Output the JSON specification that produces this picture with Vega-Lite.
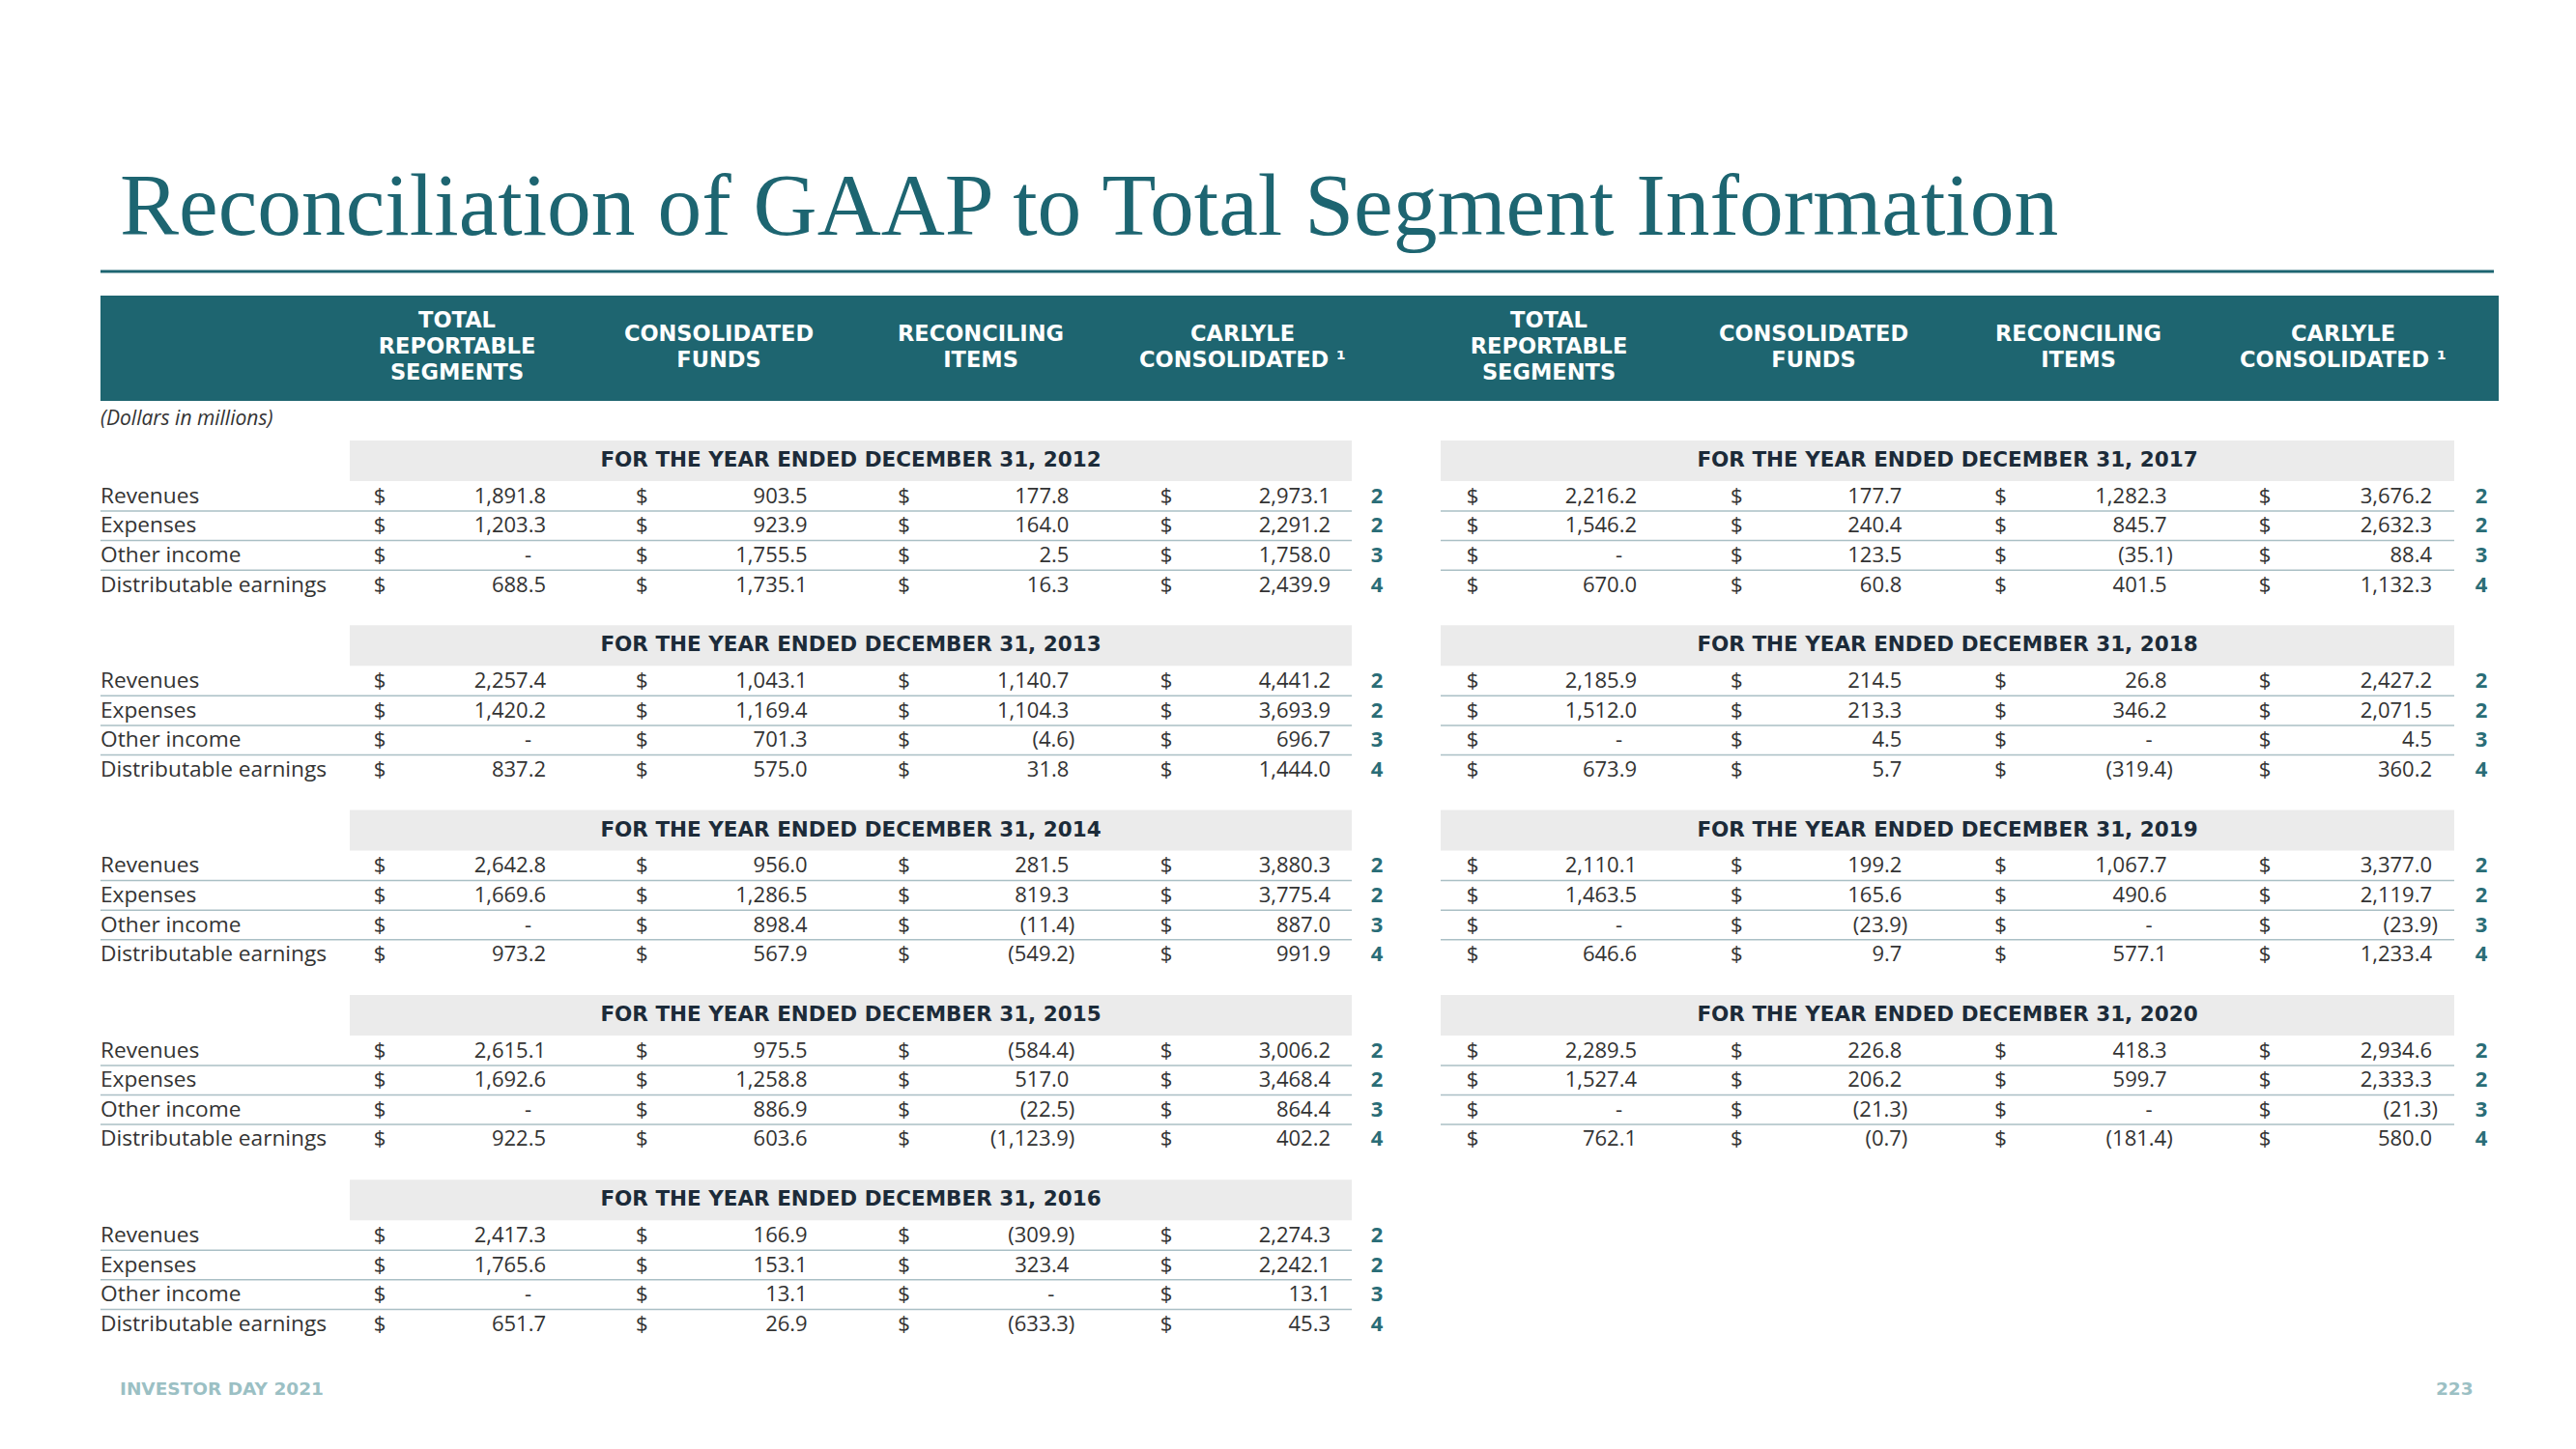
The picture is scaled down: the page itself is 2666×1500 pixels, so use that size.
{
  "$schema": "https://vega.github.io/schema/vega-lite/v6.json",
  "width": 2666,
  "height": 1500,
  "autosize": {"type": "none"},
  "padding": 0,
  "background": "#ffffff",
  "config": {"view": {"stroke": null}},
  "resolve": {"scale": {"x": "independent", "y": "independent", "yOffset": "independent"}},
  "datasets": {
    "headers": [
      {"column": "Total Reportable Segments", "lines": 3, "heading": "TOTAL\nREPORTABLE\nSEGMENTS"},
      {"column": "Consolidated Funds", "lines": 2, "heading": "CONSOLIDATED\nFUNDS"},
      {"column": "Reconciling Items", "lines": 2, "heading": "RECONCILING\nITEMS"},
      {"column": "Carlyle Consolidated", "lines": 2, "heading": "CARLYLE\nCONSOLIDATED ¹"}
    ],
    "years": [
      {"year": 2012, "side": "left", "period": "FOR THE YEAR ENDED DECEMBER 31, 2012"},
      {"year": 2013, "side": "left", "period": "FOR THE YEAR ENDED DECEMBER 31, 2013"},
      {"year": 2014, "side": "left", "period": "FOR THE YEAR ENDED DECEMBER 31, 2014"},
      {"year": 2015, "side": "left", "period": "FOR THE YEAR ENDED DECEMBER 31, 2015"},
      {"year": 2016, "side": "left", "period": "FOR THE YEAR ENDED DECEMBER 31, 2016"},
      {"year": 2017, "side": "right", "period": "FOR THE YEAR ENDED DECEMBER 31, 2017"},
      {"year": 2018, "side": "right", "period": "FOR THE YEAR ENDED DECEMBER 31, 2018"},
      {"year": 2019, "side": "right", "period": "FOR THE YEAR ENDED DECEMBER 31, 2019"},
      {"year": 2020, "side": "right", "period": "FOR THE YEAR ENDED DECEMBER 31, 2020"}
    ],
    "cells": [
      {"year": 2012, "side": "left", "item": "Revenues", "note": 2, "Total Reportable Segments": 1891.8, "Consolidated Funds": 903.5, "Reconciling Items": 177.8, "Carlyle Consolidated": 2973.1},
      {"year": 2012, "side": "left", "item": "Expenses", "note": 2, "Total Reportable Segments": 1203.3, "Consolidated Funds": 923.9, "Reconciling Items": 164.0, "Carlyle Consolidated": 2291.2},
      {"year": 2012, "side": "left", "item": "Other income", "note": 3, "Total Reportable Segments": 0, "Consolidated Funds": 1755.5, "Reconciling Items": 2.5, "Carlyle Consolidated": 1758.0},
      {"year": 2012, "side": "left", "item": "Distributable earnings", "note": 4, "Total Reportable Segments": 688.5, "Consolidated Funds": 1735.1, "Reconciling Items": 16.3, "Carlyle Consolidated": 2439.9},
      {"year": 2013, "side": "left", "item": "Revenues", "note": 2, "Total Reportable Segments": 2257.4, "Consolidated Funds": 1043.1, "Reconciling Items": 1140.7, "Carlyle Consolidated": 4441.2},
      {"year": 2013, "side": "left", "item": "Expenses", "note": 2, "Total Reportable Segments": 1420.2, "Consolidated Funds": 1169.4, "Reconciling Items": 1104.3, "Carlyle Consolidated": 3693.9},
      {"year": 2013, "side": "left", "item": "Other income", "note": 3, "Total Reportable Segments": 0, "Consolidated Funds": 701.3, "Reconciling Items": -4.6, "Carlyle Consolidated": 696.7},
      {"year": 2013, "side": "left", "item": "Distributable earnings", "note": 4, "Total Reportable Segments": 837.2, "Consolidated Funds": 575.0, "Reconciling Items": 31.8, "Carlyle Consolidated": 1444.0},
      {"year": 2014, "side": "left", "item": "Revenues", "note": 2, "Total Reportable Segments": 2642.8, "Consolidated Funds": 956.0, "Reconciling Items": 281.5, "Carlyle Consolidated": 3880.3},
      {"year": 2014, "side": "left", "item": "Expenses", "note": 2, "Total Reportable Segments": 1669.6, "Consolidated Funds": 1286.5, "Reconciling Items": 819.3, "Carlyle Consolidated": 3775.4},
      {"year": 2014, "side": "left", "item": "Other income", "note": 3, "Total Reportable Segments": 0, "Consolidated Funds": 898.4, "Reconciling Items": -11.4, "Carlyle Consolidated": 887.0},
      {"year": 2014, "side": "left", "item": "Distributable earnings", "note": 4, "Total Reportable Segments": 973.2, "Consolidated Funds": 567.9, "Reconciling Items": -549.2, "Carlyle Consolidated": 991.9},
      {"year": 2015, "side": "left", "item": "Revenues", "note": 2, "Total Reportable Segments": 2615.1, "Consolidated Funds": 975.5, "Reconciling Items": -584.4, "Carlyle Consolidated": 3006.2},
      {"year": 2015, "side": "left", "item": "Expenses", "note": 2, "Total Reportable Segments": 1692.6, "Consolidated Funds": 1258.8, "Reconciling Items": 517.0, "Carlyle Consolidated": 3468.4},
      {"year": 2015, "side": "left", "item": "Other income", "note": 3, "Total Reportable Segments": 0, "Consolidated Funds": 886.9, "Reconciling Items": -22.5, "Carlyle Consolidated": 864.4},
      {"year": 2015, "side": "left", "item": "Distributable earnings", "note": 4, "Total Reportable Segments": 922.5, "Consolidated Funds": 603.6, "Reconciling Items": -1123.9, "Carlyle Consolidated": 402.2},
      {"year": 2016, "side": "left", "item": "Revenues", "note": 2, "Total Reportable Segments": 2417.3, "Consolidated Funds": 166.9, "Reconciling Items": -309.9, "Carlyle Consolidated": 2274.3},
      {"year": 2016, "side": "left", "item": "Expenses", "note": 2, "Total Reportable Segments": 1765.6, "Consolidated Funds": 153.1, "Reconciling Items": 323.4, "Carlyle Consolidated": 2242.1},
      {"year": 2016, "side": "left", "item": "Other income", "note": 3, "Total Reportable Segments": 0, "Consolidated Funds": 13.1, "Reconciling Items": 0, "Carlyle Consolidated": 13.1},
      {"year": 2016, "side": "left", "item": "Distributable earnings", "note": 4, "Total Reportable Segments": 651.7, "Consolidated Funds": 26.9, "Reconciling Items": -633.3, "Carlyle Consolidated": 45.3},
      {"year": 2017, "side": "right", "item": "Revenues", "note": 2, "Total Reportable Segments": 2216.2, "Consolidated Funds": 177.7, "Reconciling Items": 1282.3, "Carlyle Consolidated": 3676.2},
      {"year": 2017, "side": "right", "item": "Expenses", "note": 2, "Total Reportable Segments": 1546.2, "Consolidated Funds": 240.4, "Reconciling Items": 845.7, "Carlyle Consolidated": 2632.3},
      {"year": 2017, "side": "right", "item": "Other income", "note": 3, "Total Reportable Segments": 0, "Consolidated Funds": 123.5, "Reconciling Items": -35.1, "Carlyle Consolidated": 88.4},
      {"year": 2017, "side": "right", "item": "Distributable earnings", "note": 4, "Total Reportable Segments": 670.0, "Consolidated Funds": 60.8, "Reconciling Items": 401.5, "Carlyle Consolidated": 1132.3},
      {"year": 2018, "side": "right", "item": "Revenues", "note": 2, "Total Reportable Segments": 2185.9, "Consolidated Funds": 214.5, "Reconciling Items": 26.8, "Carlyle Consolidated": 2427.2},
      {"year": 2018, "side": "right", "item": "Expenses", "note": 2, "Total Reportable Segments": 1512.0, "Consolidated Funds": 213.3, "Reconciling Items": 346.2, "Carlyle Consolidated": 2071.5},
      {"year": 2018, "side": "right", "item": "Other income", "note": 3, "Total Reportable Segments": 0, "Consolidated Funds": 4.5, "Reconciling Items": 0, "Carlyle Consolidated": 4.5},
      {"year": 2018, "side": "right", "item": "Distributable earnings", "note": 4, "Total Reportable Segments": 673.9, "Consolidated Funds": 5.7, "Reconciling Items": -319.4, "Carlyle Consolidated": 360.2},
      {"year": 2019, "side": "right", "item": "Revenues", "note": 2, "Total Reportable Segments": 2110.1, "Consolidated Funds": 199.2, "Reconciling Items": 1067.7, "Carlyle Consolidated": 3377.0},
      {"year": 2019, "side": "right", "item": "Expenses", "note": 2, "Total Reportable Segments": 1463.5, "Consolidated Funds": 165.6, "Reconciling Items": 490.6, "Carlyle Consolidated": 2119.7},
      {"year": 2019, "side": "right", "item": "Other income", "note": 3, "Total Reportable Segments": 0, "Consolidated Funds": -23.9, "Reconciling Items": 0, "Carlyle Consolidated": -23.9},
      {"year": 2019, "side": "right", "item": "Distributable earnings", "note": 4, "Total Reportable Segments": 646.6, "Consolidated Funds": 9.7, "Reconciling Items": 577.1, "Carlyle Consolidated": 1233.4},
      {"year": 2020, "side": "right", "item": "Revenues", "note": 2, "Total Reportable Segments": 2289.5, "Consolidated Funds": 226.8, "Reconciling Items": 418.3, "Carlyle Consolidated": 2934.6},
      {"year": 2020, "side": "right", "item": "Expenses", "note": 2, "Total Reportable Segments": 1527.4, "Consolidated Funds": 206.2, "Reconciling Items": 599.7, "Carlyle Consolidated": 2333.3},
      {"year": 2020, "side": "right", "item": "Other income", "note": 3, "Total Reportable Segments": 0, "Consolidated Funds": -21.3, "Reconciling Items": 0, "Carlyle Consolidated": -21.3},
      {"year": 2020, "side": "right", "item": "Distributable earnings", "note": 4, "Total Reportable Segments": 762.1, "Consolidated Funds": -0.7, "Reconciling Items": -181.4, "Carlyle Consolidated": 580.0}
    ]
  },
  "layer": [
    {
      "data": {"values": [{"title": "Reconciliation of GAAP to Total Segment Information"}]},
      "mark": {"type": "text", "align": "left", "baseline": "alphabetic", "font": "Liberation Serif", "fontSize": 91.5, "color": "#1d6571"},
      "encoding": {
        "text": {"field": "title", "type": "nominal"},
        "x": {"datum": 0, "type": "quantitative", "axis": null, "scale": {"domain": [0, 1], "range": [124, 2130]}},
        "y": {"datum": 0, "type": "quantitative", "axis": null, "scale": {"domain": [0, 1], "range": [243, 1500]}}
      }
    },
    {
      "data": {"values": [{}]},
      "mark": {"type": "rule", "stroke": "#1d6571", "strokeWidth": 3},
      "encoding": {
        "x": {"datum": 0, "type": "quantitative", "axis": null, "scale": {"domain": [0, 1], "range": [104, 2581]}},
        "x2": {"datum": 1},
        "y": {"datum": 0, "type": "quantitative", "axis": null, "scale": {"domain": [0, 1], "range": [281, 1500]}}
      }
    },
    {
      "data": {"values": [{}]},
      "mark": {"type": "rect", "fill": "#1e6570"},
      "encoding": {
        "x": {"datum": 0, "type": "quantitative", "axis": null, "scale": {"domain": [0, 1], "range": [104, 2586]}},
        "x2": {"datum": 1},
        "y": {"datum": 0, "type": "quantitative", "axis": null, "scale": {"domain": [0, 1], "range": [306, 415]}},
        "y2": {"datum": 1}
      }
    },
    {
      "data": {"name": "headers"},
      "mark": {"type": "text", "align": "center", "baseline": "middle", "lineBreak": "\n", "lineHeight": 27, "font": "DejaVu Sans", "fontWeight": "bold", "fontSize": 22.5, "color": "#ffffff"},
      "encoding": {
        "text": {"field": "heading", "type": "nominal"},
        "x": {"field": "column", "type": "nominal", "axis": null, "scale": {"type": "point", "padding": 0, "domain": ["Total Reportable Segments", "Consolidated Funds", "Reconciling Items", "Carlyle Consolidated"], "range": [473, 1286]}},
        "y": {"field": "lines", "type": "ordinal", "axis": null, "scale": {"type": "point", "padding": 0, "domain": [3, 2], "range": [332, 345.5]}}
      }
    },
    {
      "data": {"name": "headers"},
      "mark": {"type": "text", "align": "center", "baseline": "middle", "lineBreak": "\n", "lineHeight": 27, "font": "DejaVu Sans", "fontWeight": "bold", "fontSize": 22.5, "color": "#ffffff"},
      "encoding": {
        "text": {"field": "heading", "type": "nominal"},
        "x": {"field": "column", "type": "nominal", "axis": null, "scale": {"type": "point", "padding": 0, "domain": ["Total Reportable Segments", "Consolidated Funds", "Reconciling Items", "Carlyle Consolidated"], "range": [1603, 2425]}},
        "y": {"field": "lines", "type": "ordinal", "axis": null, "scale": {"type": "point", "padding": 0, "domain": [3, 2], "range": [332, 345.5]}}
      }
    },
    {
      "data": {"values": [{"units": "(Dollars in millions)"}]},
      "mark": {"type": "text", "align": "left", "baseline": "middle", "font": "Open Sans", "fontStyle": "italic", "fontSize": 21, "color": "#333333"},
      "encoding": {
        "text": {"field": "units", "type": "nominal"},
        "x": {"datum": 0, "type": "quantitative", "axis": null, "scale": {"domain": [0, 1], "range": [104, 1399]}},
        "y": {"datum": 0, "type": "quantitative", "axis": null, "scale": {"domain": [0, 1], "range": [434, 1500]}}
      }
    },
    {
      "data": {"name": "years"},
      "transform": [{"filter": "datum.side === 'left'"}],
      "mark": {"type": "rect", "fill": "#ebebeb"},
      "encoding": {
        "x": {"datum": 0, "type": "quantitative", "axis": null, "scale": {"domain": [0, 1], "range": [362, 1399]}},
        "x2": {"datum": 1},
        "y": {"field": "year", "type": "ordinal", "axis": null, "scale": {"type": "band", "domain": [2012, 2013, 2014, 2015, 2016], "range": [456, 1263.2], "paddingInner": 0.78045, "paddingOuter": 0}}
      }
    },
    {
      "data": {"name": "years"},
      "transform": [{"filter": "datum.side === 'right'"}],
      "mark": {"type": "rect", "fill": "#ebebeb"},
      "encoding": {
        "x": {"datum": 0, "type": "quantitative", "axis": null, "scale": {"domain": [0, 1], "range": [1491, 2540]}},
        "x2": {"datum": 1},
        "y": {"field": "year", "type": "ordinal", "axis": null, "scale": {"type": "band", "domain": [2017, 2018, 2019, 2020], "range": [456, 1071.9], "paddingInner": 0.78045, "paddingOuter": 0}}
      }
    },
    {
      "data": {"name": "years"},
      "transform": [{"filter": "datum.side === 'left'"}],
      "mark": {"type": "text", "align": "center", "baseline": "middle", "font": "DejaVu Sans", "fontWeight": "bold", "fontSize": 21.5, "color": "#1c2b39"},
      "encoding": {
        "text": {"field": "period", "type": "nominal"},
        "x": {"datum": 0.5, "type": "quantitative", "axis": null, "scale": {"domain": [0, 1], "range": [362, 1399]}},
        "y": {"field": "year", "type": "ordinal", "axis": null, "scale": {"type": "band", "domain": [2012, 2013, 2014, 2015, 2016], "range": [456, 1263.2], "paddingInner": 0.78045, "paddingOuter": 0}}
      }
    },
    {
      "data": {"name": "years"},
      "transform": [{"filter": "datum.side === 'right'"}],
      "mark": {"type": "text", "align": "center", "baseline": "middle", "font": "DejaVu Sans", "fontWeight": "bold", "fontSize": 21.5, "color": "#1c2b39"},
      "encoding": {
        "text": {"field": "period", "type": "nominal"},
        "x": {"datum": 0.5, "type": "quantitative", "axis": null, "scale": {"domain": [0, 1], "range": [1491, 2540]}},
        "y": {"field": "year", "type": "ordinal", "axis": null, "scale": {"type": "band", "domain": [2017, 2018, 2019, 2020], "range": [456, 1071.9], "paddingInner": 0.78045, "paddingOuter": 0}}
      }
    },
    {
      "data": {"name": "cells"},
      "transform": [{"filter": "datum.side === 'left' && datum.item !== 'Distributable earnings'"}],
      "mark": {"type": "rule", "stroke": "#aabfc5", "strokeWidth": 1.5},
      "encoding": {
        "x": {"datum": 0, "type": "quantitative", "axis": null, "scale": {"domain": [0, 1], "range": [104, 1399]}},
        "x2": {"datum": 1},
        "y": {"field": "year", "type": "ordinal", "axis": null, "scale": {"type": "band", "domain": [2012, 2013, 2014, 2015, 2016], "range": [456, 1263.2], "paddingInner": 0.78045, "paddingOuter": 0}},
        "yOffset": {"field": "item", "type": "nominal", "scale": {"type": "point", "padding": 0, "domain": ["Revenues", "Expenses", "Other income"], "range": [73, 134.2]}}
      }
    },
    {
      "data": {"name": "cells"},
      "transform": [{"filter": "datum.side === 'right' && datum.item !== 'Distributable earnings'"}],
      "mark": {"type": "rule", "stroke": "#aabfc5", "strokeWidth": 1.5},
      "encoding": {
        "x": {"datum": 0, "type": "quantitative", "axis": null, "scale": {"domain": [0, 1], "range": [1491, 2540]}},
        "x2": {"datum": 1},
        "y": {"field": "year", "type": "ordinal", "axis": null, "scale": {"type": "band", "domain": [2017, 2018, 2019, 2020], "range": [456, 1071.9], "paddingInner": 0.78045, "paddingOuter": 0}},
        "yOffset": {"field": "item", "type": "nominal", "scale": {"type": "point", "padding": 0, "domain": ["Revenues", "Expenses", "Other income"], "range": [73, 134.2]}}
      }
    },
    {
      "data": {"name": "cells"},
      "transform": [{"filter": "datum.side === 'left'"}],
      "mark": {"type": "text", "align": "left", "baseline": "middle", "font": "Open Sans", "fontSize": 22.7, "color": "#333333"},
      "encoding": {
        "text": {"field": "item", "type": "nominal"},
        "x": {"datum": 0, "type": "quantitative", "axis": null, "scale": {"domain": [0, 1], "range": [104, 1399]}},
        "y": {"field": "year", "type": "ordinal", "axis": null, "scale": {"type": "band", "domain": [2012, 2013, 2014, 2015, 2016], "range": [456, 1263.2], "paddingInner": 0.78045, "paddingOuter": 0}},
        "yOffset": {"field": "item", "type": "nominal", "scale": {"type": "point", "padding": 0, "domain": ["Revenues", "Expenses", "Other income", "Distributable earnings"], "range": [57.7, 149.5]}}
      }
    },
    {
      "data": {"name": "cells"},
      "transform": [{"filter": "datum.side === 'left'"}, {"fold": ["Total Reportable Segments", "Consolidated Funds", "Reconciling Items", "Carlyle Consolidated"], "as": ["column", "value"]}],
      "mark": {"type": "text", "text": "$", "align": "center", "baseline": "middle", "font": "Open Sans", "fontSize": 22, "color": "#333333"},
      "encoding": {
        "x": {"field": "column", "type": "nominal", "axis": null, "scale": {"type": "point", "padding": 0, "domain": ["Total Reportable Segments", "Consolidated Funds", "Reconciling Items", "Carlyle Consolidated"], "range": [393, 1207]}},
        "y": {"field": "year", "type": "ordinal", "axis": null, "scale": {"type": "band", "domain": [2012, 2013, 2014, 2015, 2016], "range": [456, 1263.2], "paddingInner": 0.78045, "paddingOuter": 0}},
        "yOffset": {"field": "item", "type": "nominal", "scale": {"type": "point", "padding": 0, "domain": ["Revenues", "Expenses", "Other income", "Distributable earnings"], "range": [57.7, 149.5]}}
      }
    },
    {
      "data": {"name": "cells"},
      "transform": [{"filter": "datum.side === 'right'"}, {"fold": ["Total Reportable Segments", "Consolidated Funds", "Reconciling Items", "Carlyle Consolidated"], "as": ["column", "value"]}],
      "mark": {"type": "text", "text": "$", "align": "center", "baseline": "middle", "font": "Open Sans", "fontSize": 22, "color": "#333333"},
      "encoding": {
        "x": {"field": "column", "type": "nominal", "axis": null, "scale": {"type": "point", "padding": 0, "domain": ["Total Reportable Segments", "Consolidated Funds", "Reconciling Items", "Carlyle Consolidated"], "range": [1524, 2344]}},
        "y": {"field": "year", "type": "ordinal", "axis": null, "scale": {"type": "band", "domain": [2017, 2018, 2019, 2020], "range": [456, 1071.9], "paddingInner": 0.78045, "paddingOuter": 0}},
        "yOffset": {"field": "item", "type": "nominal", "scale": {"type": "point", "padding": 0, "domain": ["Revenues", "Expenses", "Other income", "Distributable earnings"], "range": [57.7, 149.5]}}
      }
    },
    {
      "data": {"name": "cells"},
      "transform": [{"filter": "datum.side === 'left'"}, {"fold": ["Total Reportable Segments", "Consolidated Funds", "Reconciling Items", "Carlyle Consolidated"], "as": ["column", "value"]}, {"filter": "datum.value > 0"}],
      "mark": {"type": "text", "align": "right", "baseline": "middle", "font": "Open Sans", "fontSize": 22, "color": "#333333"},
      "encoding": {
        "text": {"field": "value", "type": "quantitative", "format": "(,.1f"},
        "x": {"field": "column", "type": "nominal", "axis": null, "scale": {"type": "point", "padding": 0, "domain": ["Total Reportable Segments", "Consolidated Funds", "Reconciling Items", "Carlyle Consolidated"], "range": [565, 1377]}},
        "y": {"field": "year", "type": "ordinal", "axis": null, "scale": {"type": "band", "domain": [2012, 2013, 2014, 2015, 2016], "range": [456, 1263.2], "paddingInner": 0.78045, "paddingOuter": 0}},
        "yOffset": {"field": "item", "type": "nominal", "scale": {"type": "point", "padding": 0, "domain": ["Revenues", "Expenses", "Other income", "Distributable earnings"], "range": [57.7, 149.5]}}
      }
    },
    {
      "data": {"name": "cells"},
      "transform": [{"filter": "datum.side === 'left'"}, {"fold": ["Total Reportable Segments", "Consolidated Funds", "Reconciling Items", "Carlyle Consolidated"], "as": ["column", "value"]}, {"filter": "datum.value < 0"}],
      "mark": {"type": "text", "align": "right", "baseline": "middle", "dx": 6, "font": "Open Sans", "fontSize": 22, "color": "#333333"},
      "encoding": {
        "text": {"field": "value", "type": "quantitative", "format": "(,.1f"},
        "x": {"field": "column", "type": "nominal", "axis": null, "scale": {"type": "point", "padding": 0, "domain": ["Total Reportable Segments", "Consolidated Funds", "Reconciling Items", "Carlyle Consolidated"], "range": [565, 1377]}},
        "y": {"field": "year", "type": "ordinal", "axis": null, "scale": {"type": "band", "domain": [2012, 2013, 2014, 2015, 2016], "range": [456, 1263.2], "paddingInner": 0.78045, "paddingOuter": 0}},
        "yOffset": {"field": "item", "type": "nominal", "scale": {"type": "point", "padding": 0, "domain": ["Revenues", "Expenses", "Other income", "Distributable earnings"], "range": [57.7, 149.5]}}
      }
    },
    {
      "data": {"name": "cells"},
      "transform": [{"filter": "datum.side === 'left'"}, {"fold": ["Total Reportable Segments", "Consolidated Funds", "Reconciling Items", "Carlyle Consolidated"], "as": ["column", "value"]}, {"filter": "datum.value === 0"}],
      "mark": {"type": "text", "text": "-", "align": "right", "baseline": "middle", "dx": -15, "font": "Open Sans", "fontSize": 22, "color": "#333333"},
      "encoding": {
        "x": {"field": "column", "type": "nominal", "axis": null, "scale": {"type": "point", "padding": 0, "domain": ["Total Reportable Segments", "Consolidated Funds", "Reconciling Items", "Carlyle Consolidated"], "range": [565, 1377]}},
        "y": {"field": "year", "type": "ordinal", "axis": null, "scale": {"type": "band", "domain": [2012, 2013, 2014, 2015, 2016], "range": [456, 1263.2], "paddingInner": 0.78045, "paddingOuter": 0}},
        "yOffset": {"field": "item", "type": "nominal", "scale": {"type": "point", "padding": 0, "domain": ["Revenues", "Expenses", "Other income", "Distributable earnings"], "range": [57.7, 149.5]}}
      }
    },
    {
      "data": {"name": "cells"},
      "transform": [{"filter": "datum.side === 'right'"}, {"fold": ["Total Reportable Segments", "Consolidated Funds", "Reconciling Items", "Carlyle Consolidated"], "as": ["column", "value"]}, {"filter": "datum.value > 0"}],
      "mark": {"type": "text", "align": "right", "baseline": "middle", "font": "Open Sans", "fontSize": 22, "color": "#333333"},
      "encoding": {
        "text": {"field": "value", "type": "quantitative", "format": "(,.1f"},
        "x": {"field": "column", "type": "nominal", "axis": null, "scale": {"type": "point", "padding": 0, "domain": ["Total Reportable Segments", "Consolidated Funds", "Reconciling Items", "Carlyle Consolidated"], "range": [1694, 2517]}},
        "y": {"field": "year", "type": "ordinal", "axis": null, "scale": {"type": "band", "domain": [2017, 2018, 2019, 2020], "range": [456, 1071.9], "paddingInner": 0.78045, "paddingOuter": 0}},
        "yOffset": {"field": "item", "type": "nominal", "scale": {"type": "point", "padding": 0, "domain": ["Revenues", "Expenses", "Other income", "Distributable earnings"], "range": [57.7, 149.5]}}
      }
    },
    {
      "data": {"name": "cells"},
      "transform": [{"filter": "datum.side === 'right'"}, {"fold": ["Total Reportable Segments", "Consolidated Funds", "Reconciling Items", "Carlyle Consolidated"], "as": ["column", "value"]}, {"filter": "datum.value < 0"}],
      "mark": {"type": "text", "align": "right", "baseline": "middle", "dx": 6, "font": "Open Sans", "fontSize": 22, "color": "#333333"},
      "encoding": {
        "text": {"field": "value", "type": "quantitative", "format": "(,.1f"},
        "x": {"field": "column", "type": "nominal", "axis": null, "scale": {"type": "point", "padding": 0, "domain": ["Total Reportable Segments", "Consolidated Funds", "Reconciling Items", "Carlyle Consolidated"], "range": [1694, 2517]}},
        "y": {"field": "year", "type": "ordinal", "axis": null, "scale": {"type": "band", "domain": [2017, 2018, 2019, 2020], "range": [456, 1071.9], "paddingInner": 0.78045, "paddingOuter": 0}},
        "yOffset": {"field": "item", "type": "nominal", "scale": {"type": "point", "padding": 0, "domain": ["Revenues", "Expenses", "Other income", "Distributable earnings"], "range": [57.7, 149.5]}}
      }
    },
    {
      "data": {"name": "cells"},
      "transform": [{"filter": "datum.side === 'right'"}, {"fold": ["Total Reportable Segments", "Consolidated Funds", "Reconciling Items", "Carlyle Consolidated"], "as": ["column", "value"]}, {"filter": "datum.value === 0"}],
      "mark": {"type": "text", "text": "-", "align": "right", "baseline": "middle", "dx": -15, "font": "Open Sans", "fontSize": 22, "color": "#333333"},
      "encoding": {
        "x": {"field": "column", "type": "nominal", "axis": null, "scale": {"type": "point", "padding": 0, "domain": ["Total Reportable Segments", "Consolidated Funds", "Reconciling Items", "Carlyle Consolidated"], "range": [1694, 2517]}},
        "y": {"field": "year", "type": "ordinal", "axis": null, "scale": {"type": "band", "domain": [2017, 2018, 2019, 2020], "range": [456, 1071.9], "paddingInner": 0.78045, "paddingOuter": 0}},
        "yOffset": {"field": "item", "type": "nominal", "scale": {"type": "point", "padding": 0, "domain": ["Revenues", "Expenses", "Other income", "Distributable earnings"], "range": [57.7, 149.5]}}
      }
    },
    {
      "data": {"name": "cells"},
      "transform": [{"filter": "datum.side === 'left'"}],
      "mark": {"type": "text", "align": "center", "baseline": "middle", "dx": 48, "font": "Open Sans", "fontWeight": "bold", "fontSize": 22, "color": "#2a6d77"},
      "encoding": {
        "text": {"field": "note", "type": "nominal"},
        "x": {"datum": "Carlyle Consolidated", "type": "nominal", "axis": null, "scale": {"type": "point", "padding": 0, "domain": ["Total Reportable Segments", "Consolidated Funds", "Reconciling Items", "Carlyle Consolidated"], "range": [565, 1377]}},
        "y": {"field": "year", "type": "ordinal", "axis": null, "scale": {"type": "band", "domain": [2012, 2013, 2014, 2015, 2016], "range": [456, 1263.2], "paddingInner": 0.78045, "paddingOuter": 0}},
        "yOffset": {"field": "item", "type": "nominal", "scale": {"type": "point", "padding": 0, "domain": ["Revenues", "Expenses", "Other income", "Distributable earnings"], "range": [57.7, 149.5]}}
      }
    },
    {
      "data": {"name": "cells"},
      "transform": [{"filter": "datum.side === 'right'"}],
      "mark": {"type": "text", "align": "center", "baseline": "middle", "dx": 51, "font": "Open Sans", "fontWeight": "bold", "fontSize": 22, "color": "#2a6d77"},
      "encoding": {
        "text": {"field": "note", "type": "nominal"},
        "x": {"datum": "Carlyle Consolidated", "type": "nominal", "axis": null, "scale": {"type": "point", "padding": 0, "domain": ["Total Reportable Segments", "Consolidated Funds", "Reconciling Items", "Carlyle Consolidated"], "range": [1694, 2517]}},
        "y": {"field": "year", "type": "ordinal", "axis": null, "scale": {"type": "band", "domain": [2017, 2018, 2019, 2020], "range": [456, 1071.9], "paddingInner": 0.78045, "paddingOuter": 0}},
        "yOffset": {"field": "item", "type": "nominal", "scale": {"type": "point", "padding": 0, "domain": ["Revenues", "Expenses", "Other income", "Distributable earnings"], "range": [57.7, 149.5]}}
      }
    },
    {
      "data": {"values": [{"footer": "INVESTOR DAY 2021", "place": "left"}, {"footer": "223", "place": "right"}]},
      "mark": {"type": "text", "align": "left", "baseline": "middle", "font": "DejaVu Sans", "fontWeight": "bold", "fontSize": 18.5, "color": "#9bc0c4"},
      "encoding": {
        "text": {"field": "footer", "type": "nominal"},
        "x": {"field": "place", "type": "nominal", "axis": null, "scale": {"type": "point", "padding": 0, "domain": ["left", "right"], "range": [124, 2521]}},
        "y": {"datum": 0, "type": "quantitative", "axis": null, "scale": {"domain": [0, 1], "range": [1438, 1500]}}
      }
    }
  ]
}
